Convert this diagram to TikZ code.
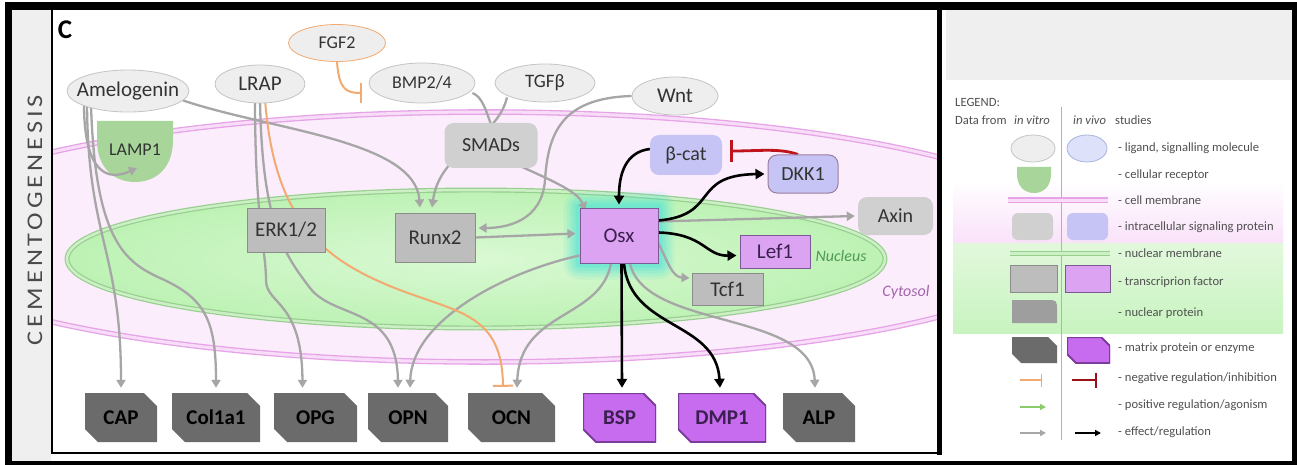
\documentclass[tikz,border=0pt]{standalone}
\usepackage{fontspec}
\setmainfont{Carlito}
\usepackage{graphicx}
\usetikzlibrary{shapes.geometric,arrows.meta,calc}
\pgfdeclarelayer{bg}
\pgfdeclarelayer{edges}
\pgfsetlayers{bg,edges,main}
\newcommand{\myfs}[1]{\fontsize{#1}{#1}\selectfont}
\newcommand{\zw}[1]{\makebox[0pt]{#1}}
\definecolor{ligfill}{HTML}{EEEEEE}
\definecolor{ligline}{HTML}{C4C4C4}
\definecolor{bluefill}{HTML}{DDE2FA}
\definecolor{blueline}{HTML}{A9B3DE}
\definecolor{sigfill}{HTML}{D0D0D0}
\definecolor{lav}{HTML}{C6C4F4}
\definecolor{dkkline}{HTML}{9C7D9F}
\definecolor{tfgfill}{HTML}{BDBDBD}
\definecolor{tfgline}{HTML}{8C8C8C}
\definecolor{tfpfill}{HTML}{DCA3F3}
\definecolor{tfpline}{HTML}{7B5A94}
\definecolor{matgrey}{HTML}{6B6B6B}
\definecolor{matpur}{HTML}{C76CEF}
\definecolor{matpurline}{HTML}{7C3C9A}
\definecolor{lampgreen}{HTML}{A8D69A}
\definecolor{cytofill}{HTML}{FCEDFC}
\definecolor{cellmem}{HTML}{E6A3E7}
\definecolor{cellmemin}{HTML}{F8DDF8}
\definecolor{nucin}{HTML}{DAF9D4}
\definecolor{nucout}{HTML}{BDF2B4}
\definecolor{nucmem}{HTML}{96CF8E}
\definecolor{nucmemin}{HTML}{CDEFC6}
\definecolor{legpink}{HTML}{F9E2F9}
\definecolor{leggreentop}{HTML}{E2F8DC}
\definecolor{leggreenbot}{HTML}{C8F4C0}
\definecolor{glowc}{HTML}{40E2DA}
\definecolor{arrgrey}{HTML}{A6A6A6}
\definecolor{orng}{HTML}{F2AA70}
\definecolor{redc}{HTML}{C0141C}
\definecolor{txt}{HTML}{333333}
\definecolor{purtxt}{HTML}{3B1F4F}
\definecolor{striprey}{HTML}{EFEFEF}
\definecolor{legtxtc}{HTML}{505050}
\definecolor{nuctxt}{HTML}{4F9A52}
\definecolor{cyttxt}{HTML}{A463AD}
\definecolor{posgreen}{HTML}{8CCB6A}
\definecolor{nucprot}{HTML}{9E9E9E}
\definecolor{titlec}{HTML}{4A4A4A}
\tikzset{
  lig/.style={ellipse, draw=ligline, fill=ligfill, line width=0.8pt, inner sep=0pt, text=txt},
  sigbox/.style={rectangle, rounded corners=9pt, fill=sigfill, inner sep=0pt, text=txt, font=\myfs{20}},
  tfg/.style={rectangle, draw=tfgline, fill=tfgfill, line width=1pt, inner sep=0pt, text=txt, font=\myfs{21}},
  tfp/.style={rectangle, draw=tfpline, fill=tfpfill, line width=1pt, inner sep=0pt, text=purtxt, font=\myfs{21}},
  matshape/.style n args={3}{rectangle, inner sep=0pt, font=\bfseries\myfs{21},
    path picture={\path[fill=#1, draw=#2, line width=2pt]
      (path picture bounding box.north west) -- ([xshift=-#3]path picture bounding box.north east)
      -- ([yshift=-#3]path picture bounding box.north east) -- (path picture bounding box.south east)
      -- ([xshift=#3]path picture bounding box.south west) -- ([yshift=#3]path picture bounding box.south west) -- cycle;}},
  matg/.style={matshape={matgrey}{none}{13pt}, minimum height=49pt, text=black},
  matp/.style={matshape={matpur}{matpurline}{13pt}, minimum height=49pt, text=purtxt},
  gedge/.style={draw=arrgrey, line width=2.3pt, -{Triangle[length=8pt,width=9pt]}},
  bedge/.style={draw=black, line width=2.6pt, -{Triangle[length=9pt,width=10pt]}},
  oinh/.style={draw=orng, line width=2pt, -{Bar[width=20pt,line width=2pt]}},
  rinh/.style={draw=redc, line width=2.8pt, -{Bar[width=22pt,line width=3pt]}},
  legtxt/.style={anchor=west, inner sep=0pt, font=\myfs{12.6}, text=legtxtc},
}
\begin{document}
\begin{tikzpicture}[x=1pt,y=-1pt]
\useasboundingbox (0,0) rectangle (1297,465);

% ---------------- nodes (main layer)
\node[font=\bfseries\myfs{27}, text=black] (lab) at (65,30) {C};
\node[rotate=90, text=titlec, inner sep=0pt] (title) at (35,220)
  {\resizebox{250pt}{14.5pt}{\addfontfeature{LetterSpace=15}CEMENTOGENESIS}};

\node[lig, minimum width=122pt, minimum height=42pt, font=\myfs{21}] (amel) at (128,91) {\zw{Amelogenin}};
\node[lig, minimum width=90pt, minimum height=38pt, font=\myfs{21}] (lrap) at (260,84) {\zw{LRAP}};
\node[lig, draw=orng, minimum width=97pt, minimum height=37pt, font=\myfs{18}] (fgf) at (337,43) {\zw{FGF2}};
\node[lig, minimum width=106pt, minimum height=40pt, font=\myfs{18}] (bmp) at (422,83) {\zw{BMP2/4}};
\node[lig, minimum width=100pt, minimum height=38pt, font=\myfs{19}] (tgf) at (545,83) {\zw{TGFβ}};
\node[lig, minimum width=86pt, minimum height=38pt, font=\myfs{21}] (wnt) at (675,96) {\zw{Wnt}};

\node[inner sep=0pt, font=\myfs{18}, text=txt] (lamp) at (135,150) {LAMP1};

\node[sigbox, minimum width=93pt, minimum height=45pt] (smads) at (491,145.5) {SMADs};
\node[sigbox, fill=lav, minimum width=72pt, minimum height=40pt] (bcat) at (686,155) {β-cat};
\node[sigbox, fill=lav, draw=dkkline, line width=1pt, minimum width=70pt, minimum height=38pt] (dkk) at (803,174) {DKK1};
\node[sigbox, minimum width=75pt, minimum height=38pt] (axin) at (895.5,216) {Axin};

\node[tfp, minimum width=78pt, minimum height=55pt] (osx) at (619,235.5) {Osx};
\node[tfg, minimum width=80pt, minimum height=49pt] (runx) at (435,237.5) {Runx2};
\node[tfg, minimum width=78pt, minimum height=44pt] (erk) at (286,230) {ERK1/2};
\node[tfp, minimum width=70pt, minimum height=33pt] (lef) at (775,251.5) {Lef1};
\node[tfg, minimum width=71pt, minimum height=32pt] (tcf) at (727.5,289) {Tcf1};

\node[inner sep=0pt, font=\itshape\myfs{16}, text=nuctxt] (nuctext) at (841,256) {Nucleus};
\node[inner sep=0pt, font=\itshape\myfs{16}, text=cyttxt] (cyttext) at (906,292) {Cytosol};

\node[matg, minimum width=72pt] (cap) at (121,417.5) {CAP};
\node[matg, minimum width=88pt] (col) at (216,417.5) {Col1a1};
\node[matg, minimum width=83pt] (opg) at (315.5,417.5) {OPG};
\node[matg, minimum width=80pt] (opn) at (408,417.5) {OPN};
\node[matg, minimum width=87pt] (ocn) at (511.5,417.5) {OCN};
\node[matp, minimum width=73pt] (bsp) at (619.5,417.5) {BSP};
\node[matp, minimum width=88pt] (dmp) at (722,417.5) {DMP1};
\node[matg, minimum width=72pt] (alp) at (819,417.5) {ALP};

% ---------------- legend nodes
\node[legtxt] (lgh) at (955,102) {LEGEND:};
\node[legtxt] (lgd) at (955,120) {Data from};
\node[legtxt, font=\itshape\myfs{12.6}] (lgv) at (1014,120) {in vitro};
\node[legtxt, font=\itshape\myfs{12.6}] (lgw) at (1073,120) {in vivo};
\node[legtxt] (lgs) at (1115,120) {studies};

\node[lig, minimum width=44pt, minimum height=27pt] (L1a) at (1033,148.5) {};
\node[ellipse, draw=blueline, fill=bluefill, line width=0.8pt, minimum width=40pt, minimum height=27pt] (L1b) at (1087,148.5) {};
\node[legtxt] (T1) at (1118,148) {- ligand, signalling molecule};
\node[legtxt] (T2) at (1118,175) {- cellular receptor};
\node[legtxt] (T3) at (1118,200) {- cell membrane};
\node[sigbox, minimum width=41pt, minimum height=27pt, rounded corners=6pt] (L4a) at (1032.5,226.5) {};
\node[sigbox, fill=lav, minimum width=41pt, minimum height=27pt, rounded corners=6pt] (L4b) at (1087.5,226.5) {};
\node[legtxt] (T4) at (1118,227) {- intracellular signaling protein};
\node[legtxt] (T5) at (1118,253) {- nuclear membrane};
\node[tfg, minimum width=47pt, minimum height=27pt] (L6a) at (1033.5,278.5) {};
\node[tfp, minimum width=45pt, minimum height=27pt] (L6b) at (1087.5,278.5) {};
\node[legtxt] (T6) at (1118,282) {- transcriprion factor};
\node[inner sep=0pt, minimum width=45pt, minimum height=23pt,
  path picture={\fill[nucprot] (path picture bounding box.south west) -- (path picture bounding box.north west)
   -- ([xshift=-11pt]path picture bounding box.north east) .. controls (path picture bounding box.north east) .. ([yshift=-11pt]path picture bounding box.north east)
   -- (path picture bounding box.south east) -- cycle;}] (L7a) at (1034.5,311.5) {};
\node[legtxt] (T7) at (1118,313) {- nuclear protein};
\node[matshape={matgrey}{none}{9pt}, minimum width=45pt, minimum height=26pt] (L8a) at (1034.5,350) {};
\node[matshape={matpur}{matpurline}{9pt}, minimum width=43pt, minimum height=26pt] (L8b) at (1088.5,350) {};
\node[legtxt] (T8) at (1118,348) {- matrix protein or enzyme};
\node[legtxt] (T9) at (1118,378) {- negative regulation/inhibition};
\node[legtxt] (T10) at (1118,405) {- positive regulation/agonism};
\node[legtxt] (T11) at (1118,432) {- effect/regulation};

% ---------------- background layer
\begin{pgfonlayer}{bg}
  \fill[white] (0,0) rectangle (1297,465);
  \fill[black] (5,2) rectangle (1297,465);
  \fill[white] (12,10) rectangle (1292,461);
  \fill[striprey] (12,10) rectangle (51,461);
  \fill[striprey] (946,10) rectangle (1292,80);
  % legend bands
  \shade[top color=white, bottom color=legpink] (953,180) rectangle (1283,243);
  \shade[top color=leggreentop, bottom color=leggreenbot] (953,243) rectangle (1283,333);
  \begin{scope}
    \clip (53,11) rectangle (937,452);
    \fill[cytofill] (485,237) ellipse [x radius=590, y radius=125];
    \draw[cellmem, line width=1.3pt, double=cellmemin, double distance=3pt] (485,237) ellipse [x radius=590, y radius=125];
    \shade[inner color=nucin, outer color=nucout] (476,259) ellipse [x radius=409, y radius=69];
    \draw[nucmem, line width=1.2pt, double=nucmemin, double distance=2.5pt] (476,259) ellipse [x radius=409, y radius=69];
  \end{scope}
  \fill[lampgreen] (97,121) -- (173,121) -- (173,140) .. controls (173,168) and (156,182) .. (135,182)
     .. controls (114,182) and (97,168) .. (97,140) -- cycle;
  \foreach \d/\o in {16/0.10,13/0.13,10/0.16,7/0.2,4/0.25}{
    \fill[glowc, opacity=\o, rounded corners=\d pt] ([shift={(-\d,\d)}]osx.south west) rectangle ([shift={(\d,-\d)}]osx.north east);
  }
  \draw[black, line width=2pt] (52,10) -- (52,453) -- (939,453);
  \draw[black, line width=5pt] (939.5,10) -- (939.5,455);
  % legend samples
  \fill[lampgreen] (1017,167) -- (1051,167) -- (1051,174) .. controls (1051,187) and (1043,193) .. (1034,193)
     .. controls (1025,193) and (1017,187) .. (1017,174) -- cycle;
  \draw[black!30, line width=0.7pt] (1061,107) -- (1061,440);
  \draw[cellmem, line width=1.2pt, double=cellmemin, double distance=3pt] (1008,200) -- (1108,200);
  \draw[nucmem, line width=1.4pt, double=nucmemin, double distance=3pt] (1010,253.5) -- (1110,253.5);
\end{pgfonlayer}

% ---------------- edges
\begin{pgfonlayer}{edges}
  \coordinate (lampin) at (137,168);
  \draw[gedge] ([xshift=-44pt,yshift=8pt]amel.south) .. controls (84,160) and (100,185) .. (lampin);
  \draw[gedge] ([xshift=-41pt,yshift=8pt]amel.south) .. controls (88,240) and (121,250) .. ([yshift=5pt]cap.north);
  \draw[gedge] ([xshift=-37pt,yshift=8pt]amel.south) .. controls (95,240) and (125,262) .. (160,278)
      .. controls (205,298) and (216,320) .. ([yshift=5pt]col.north);
  \draw[gedge] ([xshift=55pt,yshift=12pt]amel.south) .. controls (270,130) and (415,140) .. ([xshift=-15pt,yshift=5pt]runx.north);
  \draw[gedge] ([xshift=-5pt,yshift=4pt]lrap.south) .. controls (255,220) and (266,250) .. (266,280)
      .. controls (266,305) and (302,300) .. ([xshift=-13pt,yshift=5pt]opg.north);
  \draw[gedge] ([yshift=4pt]lrap.south) .. controls (262,225) and (285,255) .. (310,288)
      .. controls (335,320) and (397,305) .. ([xshift=-10pt,yshift=5pt]opn.north);
  \draw[gedge] ([xshift=-3pt,yshift=-10pt]bmp.east) .. controls (492,100) and (488,150) .. (520,166)
      .. controls (555,182) and (578,192) .. ([xshift=6pt,yshift=-3pt]osx.north west);
  \draw[gedge] ([xshift=-38pt,yshift=5pt]tgf.south) .. controls (497,140) and (440,150) .. ([xshift=-3pt,yshift=5pt]runx.north);
  \draw[gedge] (wnt.west) .. controls (560,98) and (548,135) .. (545,180)
      .. controls (542,222) and (505,228) .. ([xshift=3pt,yshift=9.5pt]runx.east);
  \draw[gedge] (runx.east) -- ([xshift=-4pt,yshift=2pt]osx.west);
  \draw[gedge] ([yshift=-20pt]osx.west) .. controls (505,272) and (412,320) .. ([xshift=2pt,yshift=5pt]opn.north);
  \draw[gedge] ([xshift=-8pt]osx.south) .. controls (600,320) and (520,310) .. ([xshift=5.5pt,yshift=5pt]ocn.north);
  \draw[gedge] ([xshift=11pt]osx.south) .. controls (645,330) and (812,310) .. ([xshift=-4pt,yshift=5pt]alp.north);
  \draw[gedge] ([yshift=-8pt]osx.east) .. controls (668,262) and (672,277) .. ([xshift=-2pt,yshift=11pt]tcf.west);
  \draw[gedge] ([yshift=14pt]osx.east) -- ([xshift=-3pt]axin.west);
  \draw[oinh] (fgf.south) .. controls (339,88) and (345,93) .. ([xshift=-7pt,yshift=-10pt]bmp.west);
  \draw[oinh] ([xshift=5pt,yshift=4pt]lrap.south) .. controls (272,190) and (300,240) .. (360,272)
      .. controls (440,315) and (502,300) .. ([xshift=-8.5pt,yshift=6pt]ocn.north);
  \draw[bedge] ([xshift=2.5pt]osx.south) -- ([xshift=2.5pt,yshift=5pt]bsp.north);
  \draw[bedge] ([xshift=5pt]osx.south) .. controls (630,330) and (716,320) .. ([xshift=-2pt,yshift=5pt]dmp.north);
  \draw[bedge] ([yshift=3pt]osx.east) .. controls (705,234) and (705,256) .. ([xshift=-3pt,yshift=-4pt]lef.west);
  \draw[bedge] ([yshift=15pt]osx.east) .. controls (720,215) and (690,175) .. ([xshift=-3pt]dkk.west);
  \draw[bedge] ([yshift=6pt]bcat.west) .. controls (625,152) and (619,175) .. ([yshift=3pt]osx.north);
  \draw[rinh] ([xshift=-5pt]dkk.north) .. controls (780,148) and (760,151) .. ([xshift=8pt,yshift=4pt]bcat.east);
  % legend line samples
  \coordinate (s9a) at (1020,380); \coordinate (s9b) at (1042,380);
  \coordinate (s9c) at (1072,380); \coordinate (s9d) at (1097,380);
  \coordinate (s10a) at (1020,407); \coordinate (s10b) at (1046,407);
  \coordinate (s11a) at (1020,433); \coordinate (s11b) at (1046,433);
  \coordinate (s11c) at (1075,433); \coordinate (s11d) at (1101,433);
  \draw[draw=orng, line width=1.3pt, -{Bar[width=13pt,line width=1.5pt]}] (s9a) -- (s9b);
  \draw[draw=redc!80!black, line width=1.6pt, -{Bar[width=15pt,line width=2pt]}] (s9c) -- (s9d);
  \draw[draw=posgreen, line width=2pt, -{Triangle[length=6pt,width=6pt]}] (s10a) -- (s10b);
  \draw[draw=arrgrey, line width=2pt, -{Triangle[length=6pt,width=6pt]}] (s11a) -- (s11b);
  \draw[draw=black, line width=2pt, -{Triangle[length=6pt,width=6pt]}] (s11c) -- (s11d);
\end{pgfonlayer}
\end{tikzpicture}
\end{document}
